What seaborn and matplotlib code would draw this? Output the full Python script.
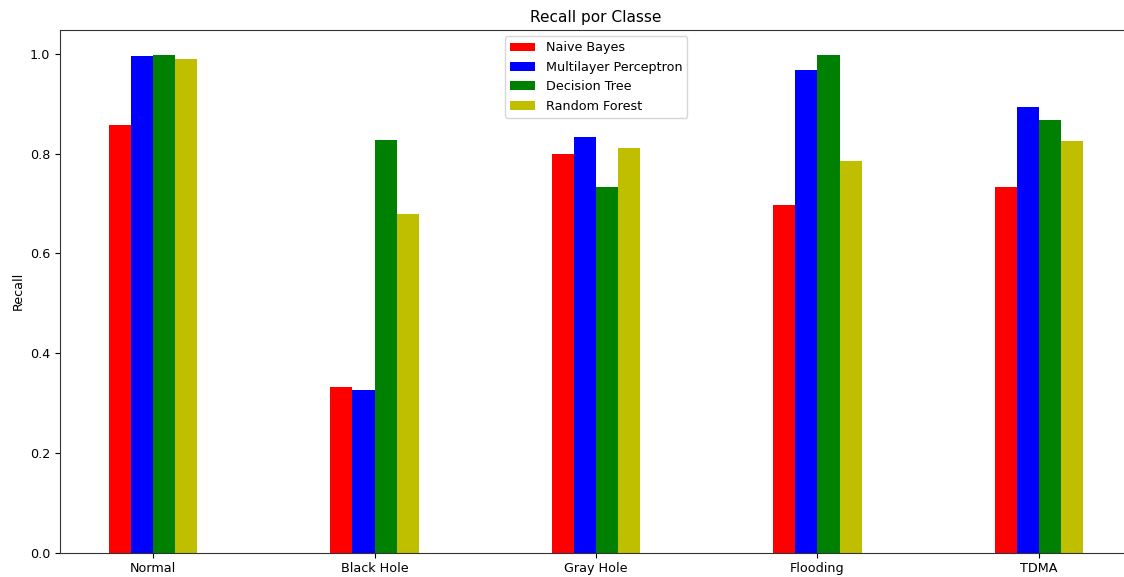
import matplotlib
matplotlib.use("Agg")
import matplotlib.pyplot as plt
import seaborn as sns
import pandas as pd

classes = ["Normal", "Black Hole", "Gray Hole", "Flooding", "TDMA"]
models = ["Naive Bayes", "Multilayer Perceptron", "Decision Tree", "Random Forest"]

recall_nb = [0.857, 0.332, 0.799, 0.698, 0.734]
recall_mlp = [0.996, 0.326, 0.834, 0.968, 0.893]
recall_dt = [0.998, 0.827, 0.734, 0.998, 0.867]
recall_rf = [0.990, 0.680, 0.811, 0.785, 0.825]

colors = ["r", "b", "g", "y"]

plt.rcParams["font.size"] = 9.2
plt.rcParams["axes.edgecolor"] = "#333333"

rows = []
for model, values in zip(models, [recall_nb, recall_mlp, recall_dt, recall_rf]):
    for cls, v in zip(classes, values):
        rows.append({"Classe": cls, "Modelo": model, "Recall": v})
df = pd.DataFrame(rows)

fig = plt.figure(figsize=(11.24, 5.77), dpi=100)
ax = fig.add_axes([0.0534, 0.0421, 0.9537, 0.906])

sns.barplot(data=df, x="Classe", y="Recall", hue="Modelo",
            order=classes, hue_order=models, palette=colors,
            width=0.4, saturation=1, errorbar=None, linewidth=0, ax=ax)

ax.set_xlim(-0.42, 4.42)
ax.set_ylim(0, 1.048)
ax.set_xlabel("")
ax.set_ylabel("Recall")
ax.set_title("Recall por Classe")
handles, labels = ax.get_legend_handles_labels()
ax.legend(handles, labels, loc="upper center")

fig.savefig("out.png", dpi=100)
